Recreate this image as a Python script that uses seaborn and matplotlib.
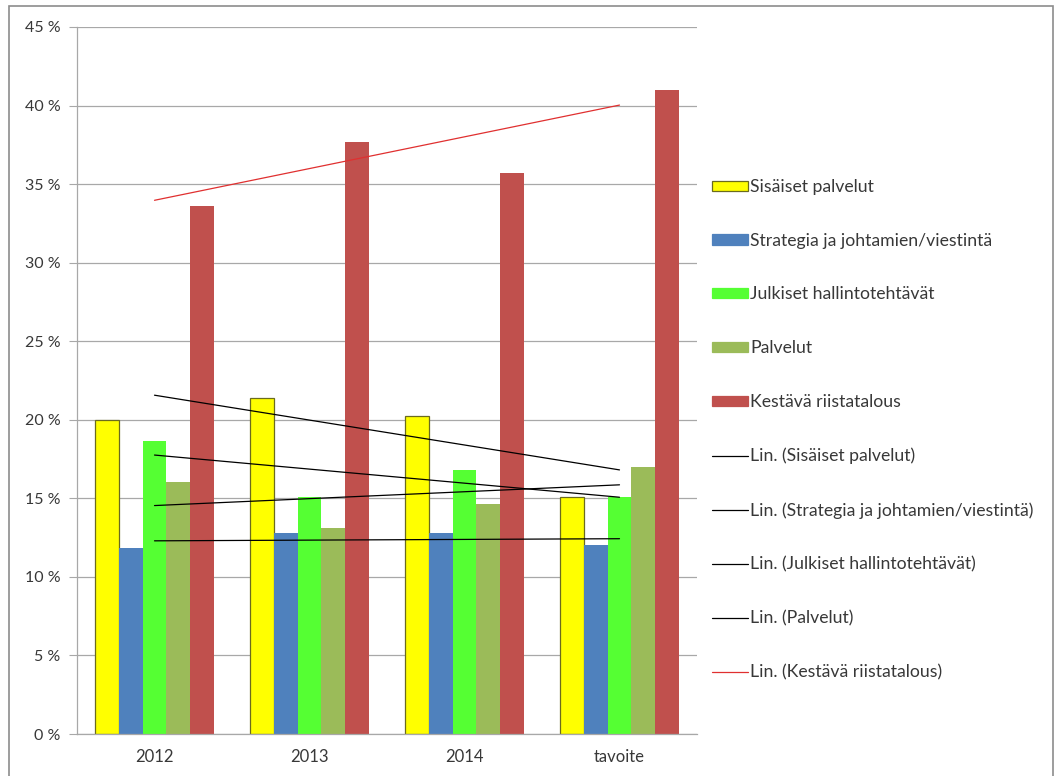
import numpy as np
import pandas as pd
import matplotlib
matplotlib.use("Agg")
import matplotlib.pyplot as plt
import seaborn as sns
from matplotlib.lines import Line2D
from matplotlib.patches import Patch, Rectangle
from matplotlib.ticker import FuncFormatter, MultipleLocator, FixedLocator

categories = ["2012", "2013", "2014", "tavoite"]
series_names = ["Sisäiset palvelut", "Strategia ja johtamien/viestintä",
                "Julkiset hallintotehtävät", "Palvelut", "Kestävä riistatalous"]
sisaiset = [20.0, 21.4, 20.25, 15.1]
strategia = [11.85, 12.8, 12.8, 12.0]
julkiset = [18.65, 15.1, 16.8, 15.1]
palvelut = [16.05, 13.1, 14.65, 17.0]
kestava = [33.6, 37.7, 35.7, 41.0]
colors = ["#FFFF00", "#4F81BD", "#55FF33", "#9BBB59", "#C0504D"]
trend_colors = ["#000000", "#000000", "#000000", "#000000", "#E03030"]

values = [sisaiset, strategia, julkiset, palvelut, kestava]
rows = []
for name, vals in zip(series_names, values):
    for c, v in zip(categories, vals):
        rows.append({"cat": c, "series": name, "value": v})
df = pd.DataFrame(rows)

sns.set_style("white")
plt.rcParams["font.family"] = ["Lato", "DejaVu Sans"]

fig = plt.figure(figsize=(10.58, 7.76), dpi=100)
ax = fig.add_axes([77/1058, 1-734/776, (697-77)/1058, (734-27)/776])

sns.barplot(data=df, x="cat", y="value", hue="series", order=categories,
            hue_order=series_names, palette=colors, width=0.77,
            saturation=1, ax=ax, legend=False, zorder=2)

# edges
n = len(categories)
for i, patch in enumerate(ax.patches[:len(series_names) * n]):
    s = i // n
    if s == 0:
        patch.set_edgecolor("#6B6B1E")
        patch.set_linewidth(0.9)
    else:
        patch.set_edgecolor(colors[s])
        patch.set_linewidth(0)

# linear trendlines
xs = np.arange(n)
for vals, tc in zip(values, trend_colors):
    k, b = np.polyfit(xs, vals, 1)
    ax.plot([xs[0], xs[-1]], [k * xs[0] + b, k * xs[-1] + b], color=tc,
            lw=0.9, zorder=3)

ax.set_xlim(-0.5, n - 0.5)
ax.set_ylim(0, 45)
ax.yaxis.set_major_locator(MultipleLocator(5))
ax.yaxis.set_major_formatter(FuncFormatter(lambda v, p: f"{int(v)} %"))
ax.grid(axis="y", color="#A8A8A8", lw=0.9, zorder=0)
ax.set_axisbelow(True)
ax.set_xlabel("")
ax.set_ylabel("")
for sp in ["top", "right"]:
    ax.spines[sp].set_visible(False)
for sp in ["left", "bottom"]:
    ax.spines[sp].set_color("#A8A8A8")
    ax.spines[sp].set_linewidth(0.9)
ax.xaxis.set_minor_locator(FixedLocator(np.arange(-0.5, n, 1.0)))
ax.tick_params(axis="x", which="major", length=0, pad=11, labelsize=12, labelcolor="#383838")
ax.tick_params(axis="x", which="minor", length=5, color="#A8A8A8", direction="out")
ax.tick_params(axis="y", length=6, color="#A8A8A8", pad=6, labelsize=11.5, labelcolor="#383838", left=True)

handles = [Patch(facecolor=c, edgecolor=("#6B6B1E" if i == 0 else c), lw=0.9)
           for i, c in enumerate(colors)]
handles += [Line2D([0], [0], color=tc, lw=0.9) for tc in trend_colors]
labels = series_names + [f"Lin. ({s})" for s in series_names]
leg = fig.legend(handles, labels, loc="upper left",
                 bbox_to_anchor=(712/1058, 1-179/776), frameon=False,
                 fontsize=12.7, labelspacing=2.14, handlelength=2.05,
                 handleheight=0.5, handletextpad=0.12, borderaxespad=0,
                 borderpad=0)
for t in leg.get_texts():
    t.set_color("#383838")

fig.patches.append(Rectangle((9/1058, -0.01), (1053-9)/1058, 1.01 - 6/776,
                             transform=fig.transFigure, fill=False,
                             edgecolor="#8C8C8C", lw=1.2))

fig.savefig("out.png", dpi=100)
